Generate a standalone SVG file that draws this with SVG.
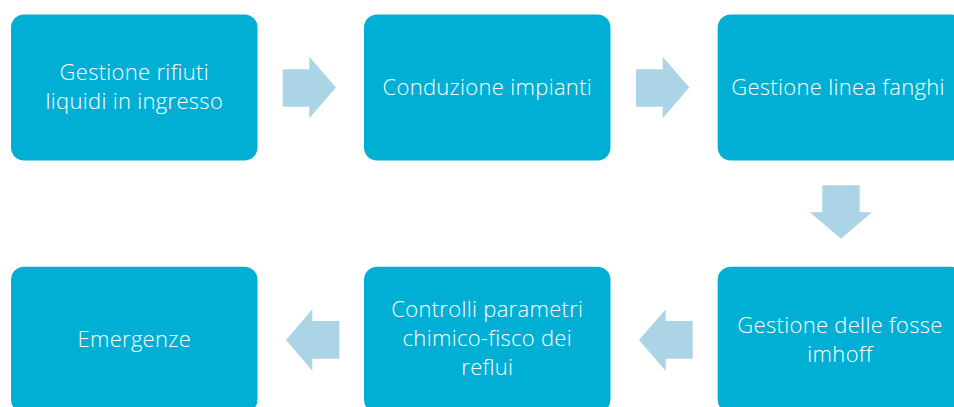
<svg xmlns="http://www.w3.org/2000/svg" width="954" height="407" viewBox="0 0 954 407">
<style>
.box{fill:#02AFD4;}
.arr{fill:#ABD4E6;}
.t{fill:#FFFFFF;font-family:"Open Sans","Liberation Sans",sans-serif;font-weight:300;font-size:22px;letter-spacing:0.3px;text-anchor:middle;}
</style>
<rect width="954" height="407" fill="#FFFFFF"/>
<g id="n1"><rect class="box" x="11" y="14.5" width="246.5" height="146" rx="13"/>
<text class="t" x="134.3" y="80">Gestione rifiuti</text><text class="t" x="134.3" y="109">liquidi in ingresso</text></g>
<g id="n2"><rect class="box" x="364" y="14.5" width="246.5" height="146" rx="13"/>
<text class="t" x="487.3" y="94.5">Conduzione impianti</text></g>
<g id="n3"><rect class="box" x="717.7" y="14.5" width="246.5" height="146" rx="13"/>
<text class="t" x="838" y="94.5">Gestione linea fanghi</text></g>
<g id="n4"><rect class="box" x="717.7" y="266.7" width="246.5" height="146" rx="13"/>
<text class="t" x="840" y="332.7">Gestione delle fosse</text><text class="t" x="840" y="361.7">imhoff</text></g>
<g id="n5"><rect class="box" x="364" y="266.7" width="246.5" height="146" rx="13"/>
<text class="t" x="487.3" y="317">Controlli parametri</text><text class="t" x="487.3" y="346">chimico-fisco dei</text><text class="t" x="487.3" y="375">reflui</text></g>
<g id="n6"><rect class="box" x="11" y="266.7" width="246.5" height="146" rx="13"/>
<text class="t" x="134.3" y="347.3">Emergenze</text></g>
<g id="connectors">
<polygon class="arr" points="282.7,69.3 309.3,69.3 309.3,56.7 336,87.5 309.3,118.3 309.3,106.7 282.7,106.7"/>
<polygon class="arr" points="636,69.3 662.7,69.3 662.7,56.7 689.3,87.5 662.7,118.3 662.7,106.7 636,106.7"/>
<polygon class="arr" points="822.3,185.3 859.7,185.3 859.7,212.3 872,212.3 841,238.7 810,212.3 822.3,212.3"/>
<polygon class="arr" points="692.7,321 665.7,321 665.7,309.3 639,340 665.7,371 665.7,358.7 692.7,358.7"/>
<polygon class="arr" points="339.3,321 312.3,321 312.3,309.3 286,340 312.3,370.7 312.3,358.7 339.3,358.7"/>
</g>
</svg>
